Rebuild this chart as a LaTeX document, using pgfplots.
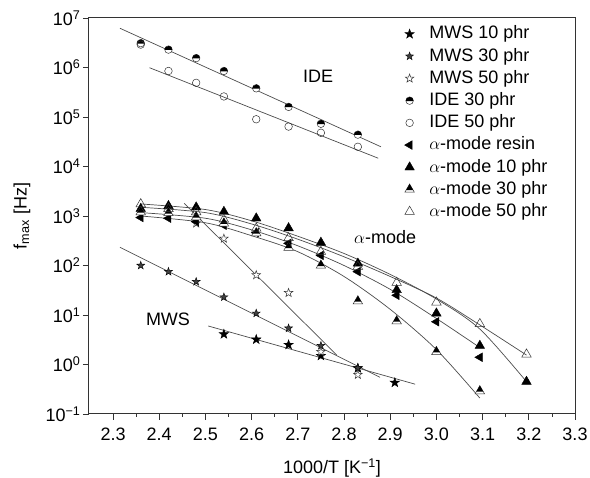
\documentclass[border=0pt]{standalone}
\usepackage{fontspec}
\setmainfont{Liberation Sans}
\usepackage{pgfplots}
\pgfplotsset{compat=1.18}

\pgfdeclareplotmark{fstar}{%
\pgfpathmoveto{\pgfqpoint{0pt}{\pgfplotmarksize}}%
\pgfpathlineto{\pgfqpoint{-0.235\pgfplotmarksize}{0.324\pgfplotmarksize}}%
\pgfpathlineto{\pgfqpoint{-0.951\pgfplotmarksize}{0.309\pgfplotmarksize}}%
\pgfpathlineto{\pgfqpoint{-0.380\pgfplotmarksize}{-0.124\pgfplotmarksize}}%
\pgfpathlineto{\pgfqpoint{-0.588\pgfplotmarksize}{-0.809\pgfplotmarksize}}%
\pgfpathlineto{\pgfqpoint{0pt}{-0.4\pgfplotmarksize}}%
\pgfpathlineto{\pgfqpoint{0.588\pgfplotmarksize}{-0.809\pgfplotmarksize}}%
\pgfpathlineto{\pgfqpoint{0.380\pgfplotmarksize}{-0.124\pgfplotmarksize}}%
\pgfpathlineto{\pgfqpoint{0.951\pgfplotmarksize}{0.309\pgfplotmarksize}}%
\pgfpathlineto{\pgfqpoint{0.235\pgfplotmarksize}{0.324\pgfplotmarksize}}%
\pgfpathclose
\pgfusepathqfillstroke}

\pgfdeclareplotmark{hcirc}{%
\pgfpathcircle{\pgfpointorigin}{\pgfplotmarksize}%
\pgfsetfillcolor{white}\pgfusepathqfillstroke
\pgfpathmoveto{\pgfpointpolar{-5}{\pgfplotmarksize}}%
\pgfpatharc{-5}{185}{\pgfplotmarksize}%
\pgfpathclose
\pgfsetfillcolor{black}\pgfusepathqfill}

\pgfdeclareplotmark{htri}{%
\pgfpathmoveto{\pgfqpoint{0pt}{\pgfplotmarksize}}%
\pgfpathlineto{\pgfqpoint{-0.866\pgfplotmarksize}{-0.5\pgfplotmarksize}}%
\pgfpathlineto{\pgfqpoint{0.866\pgfplotmarksize}{-0.5\pgfplotmarksize}}%
\pgfpathclose
\pgfsetfillcolor{white}\pgfusepathqfillstroke
\pgfpathmoveto{\pgfqpoint{0pt}{\pgfplotmarksize}}%
\pgfpathlineto{\pgfqpoint{-0.635\pgfplotmarksize}{-0.1\pgfplotmarksize}}%
\pgfpathlineto{\pgfqpoint{0.635\pgfplotmarksize}{-0.1\pgfplotmarksize}}%
\pgfpathclose
\pgfsetfillcolor{black}\pgfusepathqfill}

\begin{document}
\begin{tikzpicture}
\begin{axis}[
  scale only axis, width=486pt, height=396pt,
  ymode=log, log basis y=10,
  xmin=2.248, xmax=3.3, ymin=0.1, ymax=1e7,
  xtick={2.3,2.4,2.5,2.6,2.7,2.8,2.9,3.0,3.1,3.2,3.3},
  minor x tick num=1,
  xticklabel style={yshift=-4pt, /pgf/number format/.cd,fixed,fixed zerofill,precision=1},
  /pgf/number format/assume math mode=true,
  ytickten={-1,0,1,2,3,4,5,6,7},
  yticklabels={10\textsuperscript{−1},10\textsuperscript{0},10\textsuperscript{1},10\textsuperscript{2},10\textsuperscript{3},10\textsuperscript{4},10\textsuperscript{5},10\textsuperscript{6},10\textsuperscript{7}},
  xtick pos=bottom, ytick pos=left,
  tick align=outside,
  major tick length=6pt, minor tick length=3pt,
  axis line style={line width=1pt, black!80},
  every tick/.style={black!80, line width=0.8pt},
  tick label style={font=\fontsize{18}{20}\selectfont},
  yticklabel style={xshift=1pt},
  label style={font=\fontsize{18}{20}\selectfont},
  xlabel={1000/T [K\textsuperscript{−1}]},
  ylabel={f\textsubscript{max} [Hz]},
  xlabel style={at={(axis description cs:0.5,-0.136)}, anchor=center},
  ylabel style={at={(axis description cs:-0.138,0.5)}, anchor=center},
  legend style={draw=none, fill=none, inner sep=0pt, at={(0.649,0.982)}, anchor=north west,
    font=\fontsize{18}{20}\selectfont, row sep=4.7pt,
    nodes={inner sep=0pt, text height=13.5pt, text depth=4pt},
    /tikz/every odd column/.append style={column sep=15pt}},
  legend cell align=left,
  fitline/.style={black!70, line width=0.7pt, forget plot},
]
% data series
\addplot[only marks, mark=fstar, mark size=5pt, mark options={fill=black, line width=0.4pt}] coordinates {
 (2.54,4.1)(2.61,3.2)(2.68,2.5)(2.75,1.5)(2.83,0.84)(2.91,0.43)};
\addlegendentry{MWS 10 phr}
\addplot[only marks, mark=fstar, mark size=4.2pt, mark options={fill=black!75, line width=0.4pt}] coordinates {
 (2.36,100)(2.42,75)(2.48,47)(2.54,23)(2.61,10.8)(2.68,5.4)(2.75,2.4)(2.83,0.85)};
\addlegendentry{MWS 30 phr}
\addplot[only marks, mark=fstar, mark size=4.5pt, mark options={fill=white, draw=black!80, line width=0.5pt}] coordinates {
 (2.48,710)(2.54,350)(2.61,64)(2.68,28)(2.75,1.8)(2.83,0.62)};
\addlegendentry{MWS 50 phr}
\addplot[only marks, mark=hcirc, mark size=3.8pt, mark options={draw=black!80, line width=0.5pt}] coordinates {
 (2.36,3.1e6)(2.42,2.3e6)(2.48,1.55e6)(2.54,8.5e5)(2.61,3.8e5)(2.68,1.6e5)(2.75,7.3e4)(2.83,4.4e4)};
\addlegendentry{IDE 30 phr}
\addplot[only marks, mark=o, mark size=3.8pt, mark options={draw=black!80, fill=white, line width=0.5pt}] coordinates {
 (2.36,2.9e6)(2.42,8.5e5)(2.48,4.9e5)(2.54,2.6e5)(2.61,9.0e4)(2.68,6.4e4)(2.75,4.8e4)(2.83,2.5e4)};
\addlegendentry{IDE 50 phr}
\addplot[only marks, mark=triangle*, mark size=5pt, mark options={rotate=90, fill=black, draw=black, line width=0.4pt}] coordinates {
 (2.36,930)(2.42,900)(2.48,770)(2.54,650)(2.61,460)(2.68,280)(2.75,160)(2.83,75)(2.914,25)(3.0,7.3)(3.094,1.4)};
\addlegendentry{$\alpha$-mode resin}
\addplot[only marks, mark=triangle*, mark size=5.5pt, mark options={fill=black, draw=black, line width=0.4pt}] coordinates {
 (2.36,1400)(2.42,1600)(2.48,1500)(2.54,1220)(2.61,900)(2.68,570)(2.75,290)(2.83,110)(2.914,32)(3.0,10.8)(3.094,2.4)(3.195,0.45)};
\addlegendentry{$\alpha$-mode 10 phr}
\addplot[only marks, mark=htri, mark size=5.5pt, mark options={draw=black!80, line width=0.5pt}] coordinates {
 (2.36,1200)(2.42,1150)(2.48,950)(2.54,710)(2.61,450)(2.68,230)(2.75,100)(2.83,19)(2.914,7.5)(3.0,1.8)(3.094,0.29)};
\addlegendentry{$\alpha$-mode 30 phr}
\addplot[only marks, mark=triangle, mark size=5.5pt, mark options={draw=black!80, fill=white, line width=0.5pt}] coordinates {
 (2.36,1740)(2.42,1400)(2.48,1200)(2.54,850)(2.61,560)(2.68,360)(2.75,190)(2.83,95)(2.914,45)(3.0,18)(3.094,6.6)(3.195,1.6)};
\addlegendentry{$\alpha$-mode 50 phr}
% fit lines
\addplot[fitline] coordinates {(2.506,6.0)(2.954,0.40)};
\addplot[fitline] coordinates {(2.315,233)(2.878,0.55)};
\addplot[fitline] coordinates {(2.454,1800)(2.784,1.56)};
\addplot[fitline] coordinates {(2.315,6.2e6)(2.88,2.5e4)};
\addplot[fitline] coordinates {(2.379,9.9e5)(2.874,1.47e4)};
\addplot[fitline, smooth] coordinates {(2.36,1750)(2.5,1350)(2.6,800)(2.7,390)(2.8,175)(2.9,66)(3.0,21)(3.094,5.2)(3.195,0.45)};
\addplot[fitline, smooth] coordinates {(2.36,1500)(2.5,1170)(2.6,690)(2.7,340)(2.8,150)(2.9,60)(3.0,22)(3.094,6.3)(3.195,1.55)};
\addplot[fitline, smooth] coordinates {(2.36,1170)(2.5,900)(2.6,525)(2.7,250)(2.8,100)(2.9,33)(3.0,8.5)(3.094,2.2)};
\addplot[fitline, smooth] coordinates {(2.36,1000)(2.5,730)(2.6,400)(2.7,190)(2.8,60)(2.9,13)(3.0,2.0)(3.094,0.21)};
\node[font=\fontsize{18}{20}\selectfont] at (axis cs:2.744,6.5e5) {IDE};
\node[font=\fontsize{18}{20}\selectfont] at (axis cs:2.889,380) {$\alpha$-mode};
\node[font=\fontsize{18}{20}\selectfont] at (axis cs:2.419,8) {MWS};
\end{axis}
\pgfresetboundingbox
\useasboundingbox ([xshift=-89pt,yshift=-64pt]current axis.south west) rectangle ([xshift=15pt,yshift=18pt]current axis.north east);
\end{tikzpicture}
\end{document}
